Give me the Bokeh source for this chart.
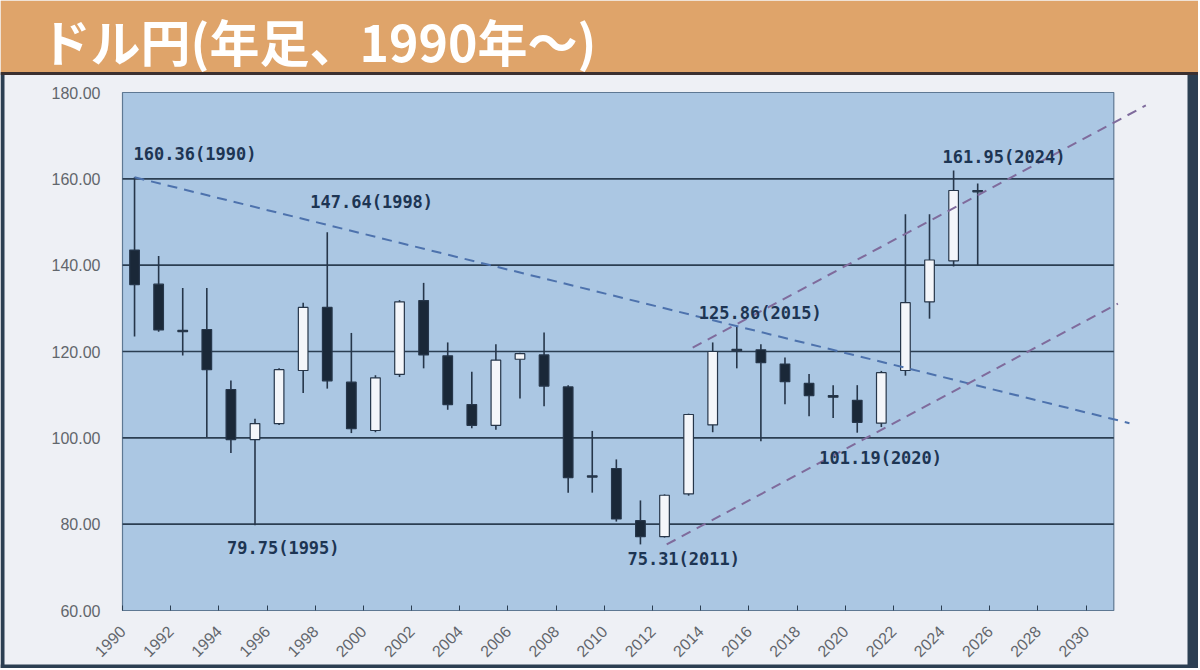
import math
from bokeh.plotting import figure
from bokeh.models import ColumnDataSource, Range1d, FixedTicker, NumeralTickFormatter
from bokeh.embed import file_html
from bokeh.resources import INLINE
from bokeh.core.properties import value

# ---------------- data ----------------
title_text = "ドル円(年足、1990年～)"

years = list(range(1990, 2026))
opens = [143.5, 135.6, 124.9, 125.1, 111.2, 99.6, 103.3, 115.6, 130.2, 112.9,
         101.7, 114.7, 131.8, 119.0, 107.7, 102.9, 118.2, 119.2, 111.8, 91.2,
         92.9, 80.8, 77.1, 87.0, 103.0, 120.2, 120.4, 117.1, 112.6, 109.8,
         108.7, 103.4, 115.6, 131.5, 141.0, 157.3]
highs = [160.36, 142.1, 134.7, 134.7, 113.3, 104.4, 116.1, 131.3, 147.64, 124.3,
         114.5, 131.9, 135.9, 122.1, 115.3, 121.7, 119.7, 124.4, 112.2, 101.6,
         95.0, 85.5, 86.9, 105.6, 122.1, 125.86, 121.7, 118.6, 114.8, 112.2,
         112.2, 115.5, 151.8, 151.8, 161.95, 158.9]
lows = [123.5, 124.6, 119.1, 100.2, 96.5, 79.75, 103.0, 110.4, 111.4, 101.1,
        101.3, 114.1, 116.1, 106.5, 102.2, 101.9, 109.1, 107.3, 87.3, 87.3,
        80.6, 75.31, 76.9, 86.6, 101.3, 116.1, 99.2, 107.8, 105.0, 104.6,
        101.19, 102.5, 114.4, 127.6, 139.7, 140.0]
closes = [135.5, 125.0, 124.6, 115.8, 99.6, 103.3, 115.8, 130.2, 113.2, 102.1,
          113.9, 131.5, 119.2, 107.7, 102.9, 118.0, 119.5, 112.0, 90.8, 90.9,
          81.2, 77.1, 86.7, 105.4, 120.0, 120.5, 117.4, 113.0, 109.8, 109.4,
          103.6, 115.1, 131.3, 141.2, 157.3, 157.0]

y_ticks = [60, 80, 100, 120, 140, 160, 180]
x_ticks = list(range(1990, 2031, 2))
x_end = 2031.15          # right edge of the blue plot area

# annotated extremes
note_years = [1990, 1998, 1995, 2011, 2015, 2020, 2024]
note_kinds = ["high", "high", "low", "low", "high", "low", "high"]

# trend lines drawn on the chart
down_x = [1990.5, 2031.8]
down_y = [160.36, 103.4]
upper_x = [2013.67, 2032.48]
upper_y = [120.9, 177.0]
lower_x = [2012.59, 2031.32]
lower_y = [75.3, 131.1]

# ---------------- style / layout ----------------
HEADER = "#DFA46A"
PANEL = "#EEF0F5"
PLOT_BG = "#ABC7E3"
BORDER = "#5E7893"
GRID = "#2B3E52"
DARK = "#1A2838"
LIGHT = "#F4F6FA"
WICK = "#26364A"
NOTE = "#1D3553"
TICK_TXT = "#62666C"
BEZEL = "#2C3F52"

W, H = 1198, 668
AREA_LEFT_PX = 122      # left edge of the blue area inside the figure
AREA_TOP_PX = 92        # top edge of the blue area
AREA_BOTTOM_PX = 610    # bottom edge of the blue area
HEAD_PX = 72            # header band height
PX_X = 24.09            # pixels per year

px_y = (AREA_BOTTOM_PX - AREA_TOP_PX) / (y_ticks[-1] - y_ticks[0])
x_lo = x_ticks[0] - AREA_LEFT_PX / PX_X
x_hi = x_ticks[0] + (W - AREA_LEFT_PX) / PX_X
y_hi = y_ticks[-1] + AREA_TOP_PX / px_y
y_lo = y_ticks[0] - (H - AREA_BOTTOM_PX) / px_y


def y_at(px):  # data y for a pixel row of the figure
    return y_ticks[-1] + (AREA_TOP_PX - px) / px_y


def x_at(px):  # data x for a pixel column of the figure
    return x_ticks[0] + (px - AREA_LEFT_PX) / PX_X


p = figure(width=W, height=H, x_range=Range1d(x_lo, x_hi), y_range=Range1d(y_lo, y_hi),
           output_backend="svg", toolbar_location=None, min_border=0)
p.background_fill_color = PANEL
p.border_fill_color = PANEL
p.outline_line_color = None
p.grid.visible = False

# screen frame edges (left, right, bottom)
p.quad(left=[x_lo, x_at(1187), x_lo], right=[x_at(4), x_hi, x_hi],
       bottom=[y_lo, y_lo, y_lo], top=[y_at(HEAD_PX), y_at(HEAD_PX), y_at(664)],
       fill_color=BEZEL, line_color=None)

# header band and title
p.quad(left=[x_lo], right=[x_hi], bottom=[y_at(HEAD_PX)], top=[y_hi],
       fill_color=HEADER, line_color=None)
p.segment(x0=[x_lo], x1=[x_hi], y0=[y_at(HEAD_PX + 1)], y1=[y_at(HEAD_PX + 1)],
          line_color="#3B3030", line_width=3)
p.text(x=[x_at(40)], y=[y_at(39.5)], text=[title_text], text_font=value("Noto Sans CJK JP"),
       text_font_style="bold", text_font_size="50px", text_color="white",
       text_baseline="middle", text_align="left")

# plot area
p.quad(left=[x_ticks[0]], right=[x_end], bottom=[y_ticks[0]], top=[y_ticks[-1]],
       fill_color=PLOT_BG, line_color=BORDER, line_width=1.2)
gl = y_ticks[1:-1]
p.segment(x0=[x_ticks[0]] * len(gl), x1=[x_end] * len(gl), y0=gl, y1=gl,
          line_color=GRID, line_width=1.7)

# candles
xs = [y + 0.5 for y in years]
src = ColumnDataSource(dict(
    x=xs, high=highs, low=lows,
    top=[max(o, c) for o, c in zip(opens, closes)],
    bottom=[min(o, c) for o, c in zip(opens, closes)],
    fill=[DARK if c < o else LIGHT for o, c in zip(opens, closes)],
))
p.segment(x0="x", x1="x", y0="low", y1="high", source=src, line_color=WICK, line_width=1.6)
p.vbar(x="x", width=0.4, top="top", bottom="bottom", source=src,
       fill_color="fill", line_color=WICK, line_width=1.2)

# trend lines
p.line(down_x, down_y, line_color="#4D72AD", line_width=2, line_dash="10 7")
p.line(upper_x, upper_y, line_color="#7F6B9C", line_width=2, line_dash="10 7")
p.line(lower_x, lower_y, line_color="#7F6B9C", line_width=2, line_dash="10 7")

# annotation texts (pixel offsets from the candle extreme)
note_dx = [-1, -17, -28, -13, -38, -38, -11]
note_dy = [-23, -30, 23, 15, -13, 25, -13]
nx, ny, nt = [], [], []
for yr, kind, dx, dy in zip(note_years, note_kinds, note_dx, note_dy):
    i = years.index(yr)
    v = highs[i] if kind == "high" else lows[i]
    nx.append(xs[i] + dx / PX_X)
    ny.append(v - dy / px_y)
    nt.append(f"{v:.2f}({yr})")
p.text(x=nx, y=ny, text=nt, text_font=value("DejaVu Sans Mono"), text_font_style="bold",
       text_font_size="17px", text_color=NOTE, text_baseline="middle", text_align="left")

# axes, pinned to the edges of the blue area
p.yaxis.fixed_location = x_ticks[0]
p.yaxis.ticker = FixedTicker(ticks=y_ticks)
p.yaxis.formatter = NumeralTickFormatter(format="0.00")
p.yaxis.axis_line_color = None
p.yaxis.major_tick_out = 0
p.yaxis.major_tick_in = 0
p.yaxis.minor_tick_line_color = None
p.yaxis.major_label_standoff = 22
p.yaxis.major_label_text_font = "Liberation Sans"
p.yaxis.major_label_text_font_size = "16px"
p.yaxis.major_label_text_color = TICK_TXT

p.xaxis.fixed_location = y_ticks[0]
p.xaxis.ticker = FixedTicker(ticks=x_ticks)
p.xaxis.bounds = (x_ticks[0], x_end)
p.xaxis.axis_line_color = BORDER
p.xaxis.axis_line_width = 1.2
p.xaxis.major_tick_out = 0
p.xaxis.major_tick_in = 5
p.xaxis.major_tick_line_color = GRID
p.xaxis.minor_tick_line_color = None
p.xaxis.major_label_orientation = math.pi / 4
p.xaxis.major_label_standoff = 18
p.xaxis.major_label_text_font = "Liberation Sans"
p.xaxis.major_label_text_font_size = "16px"
p.xaxis.major_label_text_color = TICK_TXT

open("out.html", "w").write(file_html(p, INLINE))
